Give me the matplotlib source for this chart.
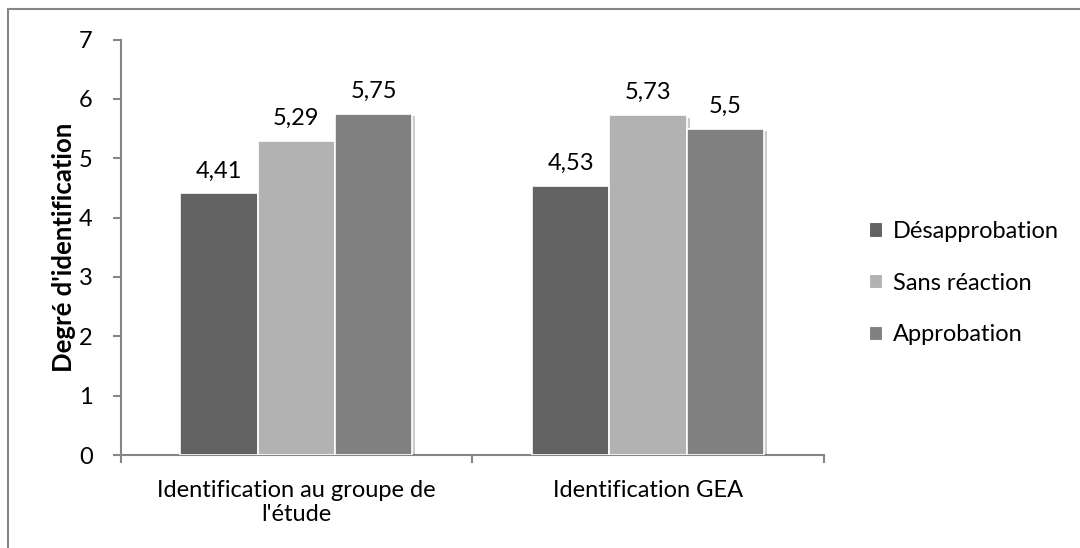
import matplotlib.pyplot as plt
import matplotlib.patheffects as pe
from matplotlib.patches import Rectangle
import numpy as np

plt.rcParams['font.family'] = ['Lato', 'DejaVu Sans']

categories = ["Identification au groupe de\nl'étude", "Identification GEA"]
series = ["Désapprobation", "Sans réaction", "Approbation"]
values = [
    [4.41, 4.53],
    [5.29, 5.73],
    [5.75, 5.5],
]
value_labels = [
    ["4,41", "4,53"],
    ["5,29", "5,73"],
    ["5,75", "5,5"],
]
colors = ["#626262", "#b2b2b2", "#808080"]

fs = 17

fig = plt.figure(figsize=(10.8, 5.48), dpi=100)
ax = fig.add_axes([120.5 / 1080, 1 - 455 / 548, (824 - 120.5) / 1080, (455 - 39.5) / 548])

# outer chart frame (only top and left edges are visible)
fig.patches.append(Rectangle((8 / 1080, -0.1), 1.2, 1 - 9 / 548 + 0.1, transform=fig.transFigure,
                             fill=False, edgecolor="#868686", linewidth=1.5))

x = np.arange(len(categories))
width = 0.22
shadow = [pe.SimplePatchShadow(offset=(2, -2), shadow_rgbFace="#000000", alpha=0.2), pe.Normal()]
for i, (name, vals) in enumerate(zip(series, values)):
    pos = x + (i - 1) * width
    bars = ax.bar(pos, vals, width, color=colors[i], edgecolor="white", linewidth=1.2,
                  label=name, zorder=3)
    for b in bars:
        b.set_path_effects(shadow)
    for p, v, lab in zip(pos, vals, value_labels[i]):
        ax.text(p, v + 0.2, lab, ha="center", va="bottom", fontsize=fs, color="black")

ax.set_xlim(-0.5, 1.5)
ax.set_ylim(0, 7)
ax.set_yticks(range(8))
ax.set_xticks([-0.5, 0.5, 1.5])
ax.set_xticklabels([])
ax.set_xticks(x, minor=True)
ax.set_xticklabels(categories, minor=True, fontsize=fs, linespacing=1.2)
ax.tick_params(axis="x", which="minor", length=0, pad=18)
ax.tick_params(axis="x", which="major", length=6, width=1.5, color="#868686", direction="out")
ax.tick_params(axis="y", length=6, width=1.5, color="#868686", labelsize=fs, pad=14)

for s in ["top", "right"]:
    ax.spines[s].set_visible(False)
for s in ["left", "bottom"]:
    ax.spines[s].set_color("#868686")
    ax.spines[s].set_linewidth(1.5)

ax.set_ylabel("Degré d'identification", fontsize=18.5, fontweight="bold", labelpad=2)

handles = [Rectangle((0, 0), 1, 1, facecolor=c, edgecolor="white", linewidth=0.8) for c in colors]
ax.legend(handles, series, loc="center left", bbox_to_anchor=(848 / 1080, 1 - 283 / 548),
          bbox_transform=fig.transFigure, frameon=False, fontsize=fs, handlelength=0.55,
          handleheight=0.55, handletextpad=0.45, labelspacing=1.3)

fig.savefig("out.png", dpi=100)
